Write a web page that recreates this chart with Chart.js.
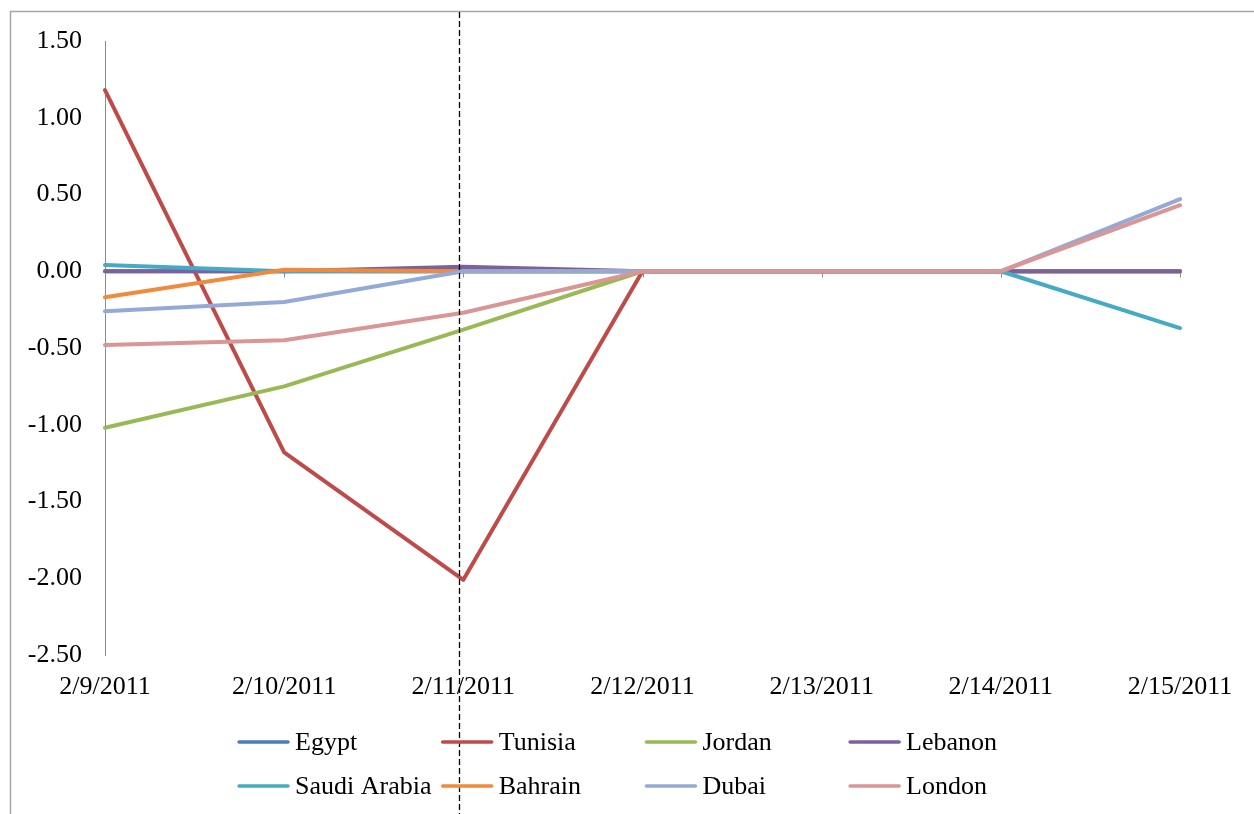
<!DOCTYPE html>
<html>
<head>
<meta charset="utf-8">
<script src="https://cdn.jsdelivr.net/npm/chart.js@4/dist/chart.umd.min.js"></script>
<style>
  html, body { margin: 0; padding: 0; background: #ffffff; }
  canvas { display: block; }
</style>
</head>
<body>
<canvas id="chart" width="1254" height="814"></canvas>
<script>
// Daily change by market, 9–15 February 2011
const dates = ['2/9/2011', '2/10/2011', '2/11/2011', '2/12/2011', '2/13/2011', '2/14/2011', '2/15/2011'];
const egypt       = [0.00, 0.00, 0.00, 0.00, 0.00, 0.00, 0.00];
const tunisia     = [1.18, -1.18, -2.01, 0.00, 0.00, 0.00, 0.00];
const jordan      = [-1.02, -0.75, -0.38, 0.00, 0.00, 0.00, 0.00];
const lebanon     = [0.00, 0.00, 0.03, 0.00, 0.00, 0.00, 0.00];
const saudiArabia = [0.04, 0.00, 0.00, 0.00, 0.00, 0.00, -0.37];
const bahrain     = [-0.17, 0.01, 0.00, 0.00, 0.00, 0.00, null];
const dubai       = [-0.26, -0.20, 0.00, 0.00, 0.00, 0.00, 0.47];
const london      = [-0.48, -0.45, -0.27, 0.00, 0.00, 0.00, 0.43];
const seriesNames = ['Egypt', 'Tunisia', 'Jordan', 'Lebanon', 'Saudi Arabia', 'Bahrain', 'Dubai', 'London'];
const seriesColors = ['#4A7EBB', '#BE4B48', '#98B954', '#7D60A0', '#46AAC5', '#F08A3C', '#94AAD6', '#D99694'];
const yMin = -2.5, yMax = 1.5, yStep = 0.5;
const markerDate = '2/11/2011';

const seriesValues = [egypt, tunisia, jordan, lebanon, saudiArabia, bahrain, dubai, london];
const FONT = "'Liberation Serif', 'Times New Roman', serif";
const FONT_SIZE = 26;

// Outer frame and white background
const framePlugin = {
  id: 'frame',
  beforeDraw(chart) {
    const { ctx, width, height } = chart;
    ctx.save();
    ctx.fillStyle = '#ffffff';
    ctx.fillRect(0, 0, width, height);
    ctx.strokeStyle = '#a6a6a6';
    ctx.lineWidth = 1.5;
    ctx.strokeRect(10.5, 11.5, width + 20, height + 20);
    ctx.restore();
  }
};

// Horizontal axis line at zero with tick marks at each category
const zeroAxisPlugin = {
  id: 'zeroAxis',
  beforeDatasetsDraw(chart) {
    const { ctx, chartArea, scales: { x, y } } = chart;
    const y0 = Math.round(y.getPixelForValue(0)) + 0.5;
    ctx.save();
    ctx.strokeStyle = '#8c8c8c';
    ctx.lineWidth = 1;
    ctx.beginPath();
    ctx.moveTo(chartArea.left, y0);
    ctx.lineTo(chartArea.right, y0);
    dates.forEach((d, i) => {
      const px = Math.round(x.getPixelForValue(i)) + 0.5;
      ctx.moveTo(px, y0);
      ctx.lineTo(px, y0 + 6);
    });
    ctx.stroke();
    ctx.restore();
  }
};

// Dashed vertical marker through the whole figure
const markerPlugin = {
  id: 'marker',
  afterDatasetsDraw(chart) {
    const { ctx, height, scales: { x } } = chart;
    const px = Math.round(x.getPixelForValue(dates.indexOf(markerDate))) - 3.5;
    ctx.save();
    ctx.strokeStyle = '#000000';
    ctx.lineWidth = 1.3;
    ctx.setLineDash([6, 3]);
    ctx.beginPath();
    ctx.moveTo(px, 12);
    ctx.lineTo(px, height);
    ctx.stroke();
    ctx.restore();
  }
};

// Legend in a 4-column grid below the plot
const legendGridPlugin = {
  id: 'legendGrid',
  afterDraw(chart) {
    const { ctx } = chart;
    const left = 237, colWidth = 203.7, rowTop = 742, rowGap = 44;
    const lineLen = 53, textGap = 5;
    ctx.save();
    ctx.font = FONT_SIZE + 'px ' + FONT;
    ctx.textBaseline = 'middle';
    ctx.textAlign = 'left';
    ctx.lineCap = 'round';
    chart.data.datasets.forEach((ds, i) => {
      const col = i % 4, row = Math.floor(i / 4);
      const x0 = left + col * colWidth;
      const yc = rowTop + row * rowGap;
      ctx.strokeStyle = ds.borderColor;
      ctx.lineWidth = 3.5;
      ctx.beginPath();
      ctx.moveTo(x0 + 2, yc);
      ctx.lineTo(x0 + lineLen - 2, yc);
      ctx.stroke();
      ctx.fillStyle = '#000000';
      ctx.fillText(ds.label, x0 + lineLen + textGap, yc + 1);
    });
    ctx.restore();
  }
};

const datasets = seriesNames.map((name, i) => ({
  label: name,
  data: seriesValues[i],
  borderColor: seriesColors[i],
  backgroundColor: seriesColors[i],
  borderWidth: 4,
  borderCapStyle: 'round',
  borderJoinStyle: 'round',
  pointRadius: 0,
  pointHoverRadius: 0,
  tension: 0,
  fill: false,
  spanGaps: false,
  order: seriesNames.length - i
}));

function zeroPadding(scale) {
  scale.paddingLeft = 0;
  scale.paddingRight = 0;
  scale.paddingTop = 0;
  scale.paddingBottom = 0;
}

new Chart(document.getElementById('chart'), {
  type: 'line',
  data: { labels: dates, datasets },
  options: {
    responsive: false,
    animation: false,
    devicePixelRatio: 1,
    layout: { padding: { top: 41, right: 74, bottom: 0, left: 0 } },
    plugins: {
      legend: { display: false },
      tooltip: { enabled: false }
    },
    scales: {
      x: {
        type: 'category',
        offset: false,
        grid: { display: false, drawTicks: false },
        border: { display: false },
        ticks: {
          color: '#000000',
          font: { family: FONT, size: FONT_SIZE },
          padding: 17,
          maxRotation: 0,
          autoSkip: false
        },
        afterFit(scale) { scale.height = 159; zeroPadding(scale); }
      },
      y: {
        min: yMin,
        max: yMax,
        grid: { display: false, drawTicks: false },
        border: { display: true, color: '#8c8c8c', width: 1 },
        ticks: {
          stepSize: yStep,
          color: '#000000',
          font: { family: FONT, size: FONT_SIZE },
          padding: 23,
          callback: v => Number(v).toFixed(2)
        },
        afterFit(scale) { scale.width = 105; zeroPadding(scale); }
      }
    }
  },
  plugins: [framePlugin, zeroAxisPlugin, markerPlugin, legendGridPlugin]
});
</script>
</body>
</html>
